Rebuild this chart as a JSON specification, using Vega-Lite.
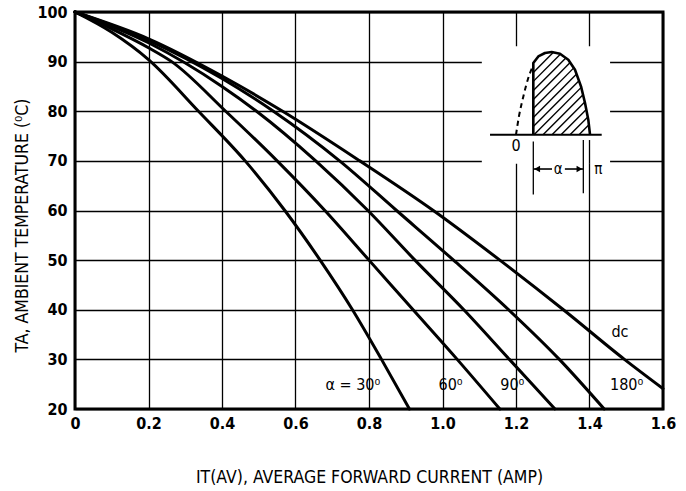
{
  "$schema": "https://vega.github.io/schema/vega-lite/v6.json",
  "width": 588,
  "height": 397,
  "autosize": {"type": "none"},
  "padding": {"left": 75, "top": 12, "right": 23, "bottom": 82},
  "background": "white",
  "config": {
    "view": {"stroke": "black", "strokeWidth": 3},
    "font": "DejaVu Sans Condensed, sans-serif",
    "axis": {
      "labelFont": "DejaVu Sans Condensed, sans-serif",
      "titleFont": "DejaVu Sans Condensed, sans-serif",
      "labelFontSize": 16,
      "labelFontWeight": "bold",
      "titleFontSize": 17.5,
      "titleFontWeight": "normal",
      "labelColor": "black",
      "titleColor": "black",
      "gridColor": "black",
      "gridWidth": 1.3,
      "gridOpacity": 1,
      "domain": false,
      "ticks": false,
      "labelFlush": false,
      "labelOverlap": false
    }
  },
  "datasets": {
    "curves": [
      {"curve": "30", "i": 0, "t": 100}, {"curve": "30", "i": 0.1, "t": 95.9}, {"curve": "30", "i": 0.2, "t": 90.4}, {"curve": "30", "i": 0.336, "t": 80}, {"curve": "30", "i": 0.463, "t": 70}, {"curve": "30", "i": 0.571, "t": 60}, {"curve": "30", "i": 0.667, "t": 50}, {"curve": "30", "i": 0.755, "t": 40}, {"curve": "30", "i": 0.834, "t": 30}, {"curve": "30", "i": 0.91, "t": 20},
      {"curve": "60", "i": 0, "t": 100}, {"curve": "60", "i": 0.1, "t": 96.6}, {"curve": "60", "i": 0.2, "t": 92.8}, {"curve": "60", "i": 0.263, "t": 90}, {"curve": "60", "i": 0.41, "t": 80}, {"curve": "60", "i": 0.55, "t": 70}, {"curve": "60", "i": 0.68, "t": 60}, {"curve": "60", "i": 0.8, "t": 50}, {"curve": "60", "i": 0.92, "t": 40}, {"curve": "60", "i": 1.04, "t": 30}, {"curve": "60", "i": 1.156, "t": 20},
      {"curve": "90", "i": 0, "t": 100}, {"curve": "90", "i": 0.2, "t": 93.8}, {"curve": "90", "i": 0.4, "t": 85}, {"curve": "90", "i": 0.494, "t": 80}, {"curve": "90", "i": 0.655, "t": 70}, {"curve": "90", "i": 0.797, "t": 60}, {"curve": "90", "i": 0.925, "t": 50}, {"curve": "90", "i": 1.058, "t": 40}, {"curve": "90", "i": 1.182, "t": 30}, {"curve": "90", "i": 1.306, "t": 20},
      {"curve": "180", "i": 0, "t": 100}, {"curve": "180", "i": 0.2, "t": 94.3}, {"curve": "180", "i": 0.4, "t": 86.6}, {"curve": "180", "i": 0.54, "t": 80}, {"curve": "180", "i": 0.72, "t": 70}, {"curve": "180", "i": 0.875, "t": 60}, {"curve": "180", "i": 1.03, "t": 50}, {"curve": "180", "i": 1.18, "t": 40}, {"curve": "180", "i": 1.318, "t": 30}, {"curve": "180", "i": 1.44, "t": 20},
      {"curve": "dc", "i": 0, "t": 100}, {"curve": "dc", "i": 0.2, "t": 94.6}, {"curve": "dc", "i": 0.4, "t": 87.1}, {"curve": "dc", "i": 0.565, "t": 80}, {"curve": "dc", "i": 0.775, "t": 70}, {"curve": "dc", "i": 0.975, "t": 60}, {"curve": "dc", "i": 1.156, "t": 50}, {"curve": "dc", "i": 1.329, "t": 40}, {"curve": "dc", "i": 1.495, "t": 30}, {"curve": "dc", "i": 1.6, "t": 24.1}
    ],
    "box": [{"i": 1.107, "i2": 1.456, "t": 69.4, "t2": 93.1}],
    "arc": [
      {"k": 0, "i": 1.2471, "t": 75.27}, {"k": 1, "i": 1.2471, "t": 89.72}, {"k": 2, "i": 1.2607, "t": 91.05}, {"k": 3, "i": 1.2789, "t": 91.74}, {"k": 4, "i": 1.2971, "t": 91.94}, {"k": 5, "i": 1.3197, "t": 91.6}, {"k": 6, "i": 1.3423, "t": 90.39}, {"k": 7, "i": 1.3605, "t": 88.37}, {"k": 8, "i": 1.3769, "t": 85.01}, {"k": 9, "i": 1.3878, "t": 81.66}, {"k": 10, "i": 1.3967, "t": 78.3}, {"k": 11, "i": 1.4014, "t": 75.27}
    ],
    "dashed": [
      {"k": 0, "i": 1.2, "t": 75.27}, {"k": 1, "i": 1.208, "t": 78.96}, {"k": 2, "i": 1.22, "t": 82.99}, {"k": 3, "i": 1.232, "t": 86.36}, {"k": 4, "i": 1.243, "t": 88.6}
    ],
    "segs": [
      {"i": 1.1293, "t": 75.27, "i2": 1.4332, "t2": 75.27, "w": 2},
      {"i": 1.2471, "t": 73.9, "i2": 1.2471, "t2": 63.2, "w": 1.3},
      {"i": 1.3832, "t": 74.2, "i2": 1.3832, "t2": 63.5, "w": 1.3},
      {"i": 1.4, "t": 69.4, "i2": 1.4, "t2": 74.2, "w": 1.3},
      {"i": 1.2471, "t": 68.36, "i2": 1.298, "t2": 68.36, "w": 1.6},
      {"i": 1.333, "t": 68.36, "i2": 1.3832, "t2": 68.36, "w": 1.6}
    ],
    "hatch": [
      {"i": 1.2471, "t": 87.83, "i2": 1.3018, "t2": 91.88},
      {"i": 1.2471, "t": 86.02, "i2": 1.3213, "t2": 91.52},
      {"i": 1.2471, "t": 84.2, "i2": 1.3355, "t2": 90.75},
      {"i": 1.2471, "t": 82.39, "i2": 1.3475, "t2": 89.82},
      {"i": 1.2471, "t": 80.57, "i2": 1.3573, "t2": 88.74},
      {"i": 1.2471, "t": 78.76, "i2": 1.3649, "t2": 87.49},
      {"i": 1.2471, "t": 76.95, "i2": 1.3714, "t2": 86.16},
      {"i": 1.249, "t": 75.27, "i2": 1.3776, "t2": 84.81},
      {"i": 1.2735, "t": 75.27, "i2": 1.3823, "t2": 83.34},
      {"i": 1.298, "t": 75.27, "i2": 1.3871, "t2": 81.86},
      {"i": 1.3224, "t": 75.27, "i2": 1.3913, "t2": 80.37},
      {"i": 1.3469, "t": 75.27, "i2": 1.3954, "t2": 78.86},
      {"i": 1.3714, "t": 75.27, "i2": 1.3984, "t2": 77.27}
    ],
    "arrows": [
      {"i": 1.2575, "t": 68.36, "shape": "triangle-left"},
      {"i": 1.3727, "t": 68.36, "shape": "triangle-right"}
    ],
    "insetText": [
      {"i": 1.2, "t": 72.9, "label": "0", "size": 16},
      {"i": 1.315, "t": 68.4, "label": "α", "size": 15},
      {"i": 1.424, "t": 68.4, "label": "π", "size": 15}
    ],
    "labels": [
      {"i": 0.756, "t": 24.9, "label": "α = 30⁰"},
      {"i": 1.022, "t": 24.9, "label": "60⁰"},
      {"i": 1.19, "t": 24.9, "label": "90⁰"},
      {"i": 1.501, "t": 24.9, "label": "180⁰"},
      {"i": 1.483, "t": 35.6, "label": "dc"}
    ]
  },
  "layer": [
    {
      "data": {"name": "curves"},
      "mark": {"type": "line", "color": "black", "strokeWidth": 3, "interpolate": "monotone", "strokeCap": "round"},
      "encoding": {
        "x": {
          "field": "i", "type": "quantitative",
          "scale": {"domain": [0, 1.6], "nice": false, "zero": false},
          "axis": {
            "title": "IT(AV), AVERAGE FORWARD CURRENT (AMP)",
            "values": [0, 0.2, 0.4, 0.6, 0.8, 1.0, 1.2, 1.4, 1.6],
            "labelExpr": "datum.value == 0 ? '0' : format(datum.value, '.1f')",
            "labelPadding": 6,
            "titleBaseline": "middle",
            "titleY": 68
          }
        },
        "y": {
          "field": "t", "type": "quantitative",
          "scale": {"domain": [20, 100], "nice": false, "zero": false},
          "axis": {
            "title": "TA, AMBIENT TEMPERATURE (⁰C)",
            "values": [20, 30, 40, 50, 60, 70, 80, 90, 100],
            "labelPadding": 8,
            "titleBaseline": "middle",
            "titleX": -53,
            "titleY": 213
          }
        },
        "detail": {"field": "curve"}
      }
    },
    {
      "data": {"name": "box"},
      "mark": {"type": "rect", "fill": "white"},
      "encoding": {
        "x": {"field": "i", "type": "quantitative"},
        "x2": {"field": "i2"},
        "y": {"field": "t", "type": "quantitative"},
        "y2": {"field": "t2"}
      }
    },
    {
      "data": {"name": "hatch"},
      "mark": {"type": "rule", "color": "black", "strokeWidth": 1.4},
      "encoding": {
        "x": {"field": "i", "type": "quantitative"},
        "x2": {"field": "i2"},
        "y": {"field": "t", "type": "quantitative"},
        "y2": {"field": "t2"}
      }
    },
    {
      "data": {"name": "arc"},
      "mark": {"type": "line", "color": "black", "strokeWidth": 2.6, "interpolate": "linear", "strokeJoin": "round"},
      "encoding": {
        "x": {"field": "i", "type": "quantitative"},
        "y": {"field": "t", "type": "quantitative"},
        "order": {"field": "k"}
      }
    },
    {
      "data": {"name": "dashed"},
      "mark": {"type": "line", "color": "black", "strokeWidth": 2, "strokeDash": [5, 4], "interpolate": "monotone"},
      "encoding": {
        "x": {"field": "i", "type": "quantitative"},
        "y": {"field": "t", "type": "quantitative"},
        "order": {"field": "k"}
      }
    },
    {
      "data": {"name": "segs"},
      "mark": {"type": "rule", "color": "black"},
      "encoding": {
        "x": {"field": "i", "type": "quantitative"},
        "x2": {"field": "i2"},
        "y": {"field": "t", "type": "quantitative"},
        "y2": {"field": "t2"},
        "strokeWidth": {"field": "w", "type": "quantitative", "scale": null}
      }
    },
    {
      "data": {"name": "arrows"},
      "mark": {"type": "point", "filled": true, "color": "black", "size": 45, "opacity": 1},
      "encoding": {
        "x": {"field": "i", "type": "quantitative"},
        "y": {"field": "t", "type": "quantitative"},
        "shape": {"field": "shape", "type": "nominal", "scale": null}
      }
    },
    {
      "data": {"name": "insetText"},
      "mark": {"type": "text", "color": "black", "align": "center", "baseline": "middle"},
      "encoding": {
        "x": {"field": "i", "type": "quantitative"},
        "y": {"field": "t", "type": "quantitative"},
        "text": {"field": "label"},
        "size": {"field": "size", "type": "quantitative", "scale": null}
      }
    },
    {
      "data": {"name": "labels"},
      "mark": {"type": "text", "color": "black", "align": "center", "baseline": "middle", "fontSize": 16},
      "encoding": {
        "x": {"field": "i", "type": "quantitative"},
        "y": {"field": "t", "type": "quantitative"},
        "text": {"field": "label"}
      }
    }
  ]
}
